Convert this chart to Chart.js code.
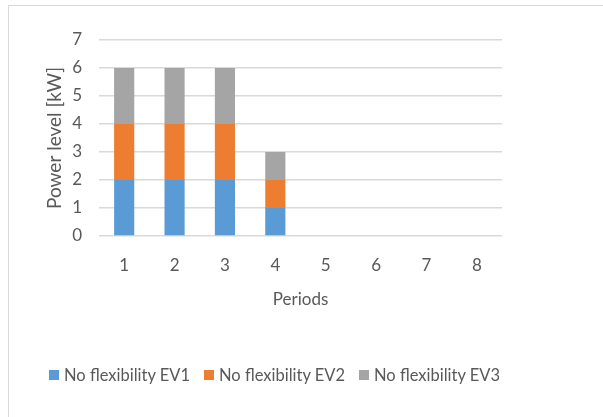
<!DOCTYPE html>
<html>
<head>
<meta charset="utf-8">
<script src="https://cdn.jsdelivr.net/npm/chart.js@4"></script>
<style>
  html, body { margin: 0; padding: 0; background: #fff; }
  #wrap { position: relative; width: 603px; height: 417px; overflow: hidden; }
  #frame { position: absolute; left: 8px; top: 5px; width: 640px; height: 460px; border: 1px solid #D9D9D9; box-sizing: border-box; }
  canvas { position: absolute; left: 0; top: 0; }
  #legend { position: absolute; left: 49px; top: 365px; display: flex; font-family: Lato, "Open Sans", sans-serif; font-size: 16.5px; color: #595959; line-height: 20px; }
  .item { width: 155px; display: flex; align-items: center; white-space: nowrap; }
  .swatch { width: 10px; height: 10px; margin-right: 5px; flex: none; }
</style>
</head>
<body>
<div id="wrap">
  <div id="frame"></div>
  <canvas id="c" width="603" height="417"></canvas>
  <div id="legend"></div>
</div>
<script>
// Periods on the x axis
const periods = ['1', '2', '3', '4', '5', '6', '7', '8'];
// Charging power per EV [kW] in each period
const ev1 = [2, 2, 2, 1, 0, 0, 0, 0];
const ev2 = [2, 2, 2, 1, 0, 0, 0, 0];
const ev3 = [2, 2, 2, 1, 0, 0, 0, 0];
const seriesNames = ['No flexibility EV1', 'No flexibility EV2', 'No flexibility EV3'];
const seriesColors = ['#5B9BD5', '#ED7D31', '#A5A5A5'];

const FONT = 'Lato, "Open Sans", sans-serif';
const TEXT = '#595959';
const GRID = '#D9D9D9';

const datasets = [ev1, ev2, ev3].map((values, i) => ({
  label: seriesNames[i],
  data: values,
  backgroundColor: seriesColors[i],
  borderWidth: 0,
  categoryPercentage: 1.0,
  barPercentage: 0.4
}));

const chart = new Chart(document.getElementById('c'), {
  type: 'bar',
  data: { labels: periods, datasets },
  options: {
    responsive: false,
    animation: false,
    layout: { padding: { left: 43, right: 101, top: 40, bottom: 0 } },
    plugins: {
      tooltip: { enabled: false },
      legend: { display: false }
    },
    scales: {
      x: {
        stacked: true,
        grid: { display: false, drawTicks: false },
        border: { display: false },
        ticks: { color: TEXT, font: { family: FONT, size: 17 }, padding: 19 },
        title: { display: true, text: 'Periods', color: TEXT, font: { family: FONT, size: 17 }, padding: { top: 0, bottom: 107 } },
        afterFit: (scale) => { scale.height = 181; }
      },
      y: {
        stacked: true,
        min: 0,
        max: 7,
        ticks: { stepSize: 1, color: TEXT, font: { family: FONT, size: 17 }, padding: 17 },
        grid: { color: GRID, lineWidth: 1.5, drawTicks: false },
        border: { display: false },
        title: { display: true, text: 'Power level [kW]', color: TEXT, font: { family: FONT, size: 19 }, padding: { top: 0, bottom: 0 } },
        afterFit: (scale) => { scale.width = 56; }
      }
    }
  }
});

// Legend row built from the chart's own datasets
const legend = document.getElementById('legend');
chart.data.datasets.forEach((ds) => {
  const item = document.createElement('div');
  item.className = 'item';
  const sw = document.createElement('span');
  sw.className = 'swatch';
  sw.style.background = ds.backgroundColor;
  const label = document.createElement('span');
  label.textContent = ds.label;
  item.appendChild(sw);
  item.appendChild(label);
  legend.appendChild(item);
});
</script>
</body>
</html>
